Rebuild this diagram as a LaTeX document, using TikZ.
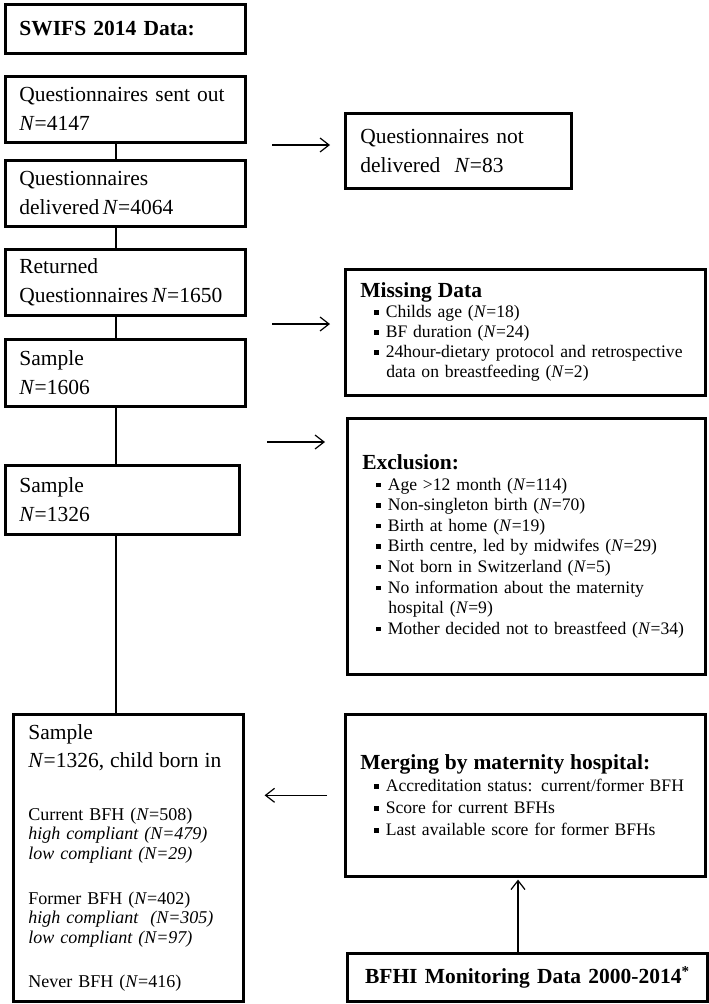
\documentclass[tikz,border=0pt]{standalone}
\usepackage{fontspec}
\setmainfont{Liberation Serif}
\usetikzlibrary{arrows.meta}

% square bullet and bold box heading
\newcommand{\sqitem}{\hspace*{21pt}\raisebox{3pt}{\rule{4.5pt}{4.5pt}}\hspace{7pt}}
\newcommand{\contline}{\hspace*{33pt}}
\newcommand{\headtxt}[1]{\hspace*{7pt}{\fontsize{21.5}{20}\selectfont\bfseries #1}}

\begin{document}
\begin{tikzpicture}[x=1pt,y=-1pt,
    stage/.style={draw, line width=2.6pt, anchor=north west, inner xsep=14pt,
      inner ysep=0pt, align=left, font=\fontsize{21.5}{29}\selectfont},
    info/.style={stage, inner xsep=8pt, font=\fontsize{17.6}{20.5}\selectfont},
    link/.style={line width=1.1pt},
    arr/.style={line width=1.2pt, -{Straight Barb[length=9pt,width=14pt]}}]
  \useasboundingbox (0,0) rectangle (709,1004);

  % SWIFS column
  \node[stage, minimum width=240pt, minimum height=49pt, text width=212pt] (swifs) at (4,3)
    {\textbf{SWIFS 2014 Data:}};
  \node[stage, minimum width=240pt, minimum height=66pt, text width=212pt] (sent) at (4,75)
    {Questionnaires sent out\\ \textit{N}=4147};
  \node[stage, minimum width=240pt, minimum height=66pt, text width=212pt] (deliv) at (4,159)
    {Questionnaires\\ delivered\,\textit{N}=4064};
  \node[stage, minimum width=240pt, minimum height=66pt, text width=212pt] (ret) at (4,248)
    {Returned\\ Questionnaires\,\textit{N}=1650};
  \node[stage, minimum width=240pt, minimum height=67pt, text width=212pt] (s1606) at (4,338)
    {Sample\\ \textit{N}=1606};
  \node[stage, minimum width=234pt, minimum height=69pt, text width=206pt] (s1326) at (4,464)
    {Sample\\ \textit{N}=1326};

  % final sample
  \node[stage, inner xsep=15pt, minimum width=230pt, minimum height=287pt, text width=200pt,
    font=\fontsize{18}{19.5}\selectfont] (final) at (12,713)
    {{\fontsize{21.5}{20}\selectfont Sample}\\[8.5pt]
     {\fontsize{21.5}{20}\selectfont \textit{N}=1326, child born in}\\[33pt]
     Current BFH (\textit{N}=508)\\
     \textit{high compliant (N=479)}\\
     \textit{low compliant (N=29)}\\[25.5pt]
     Former BFH (\textit{N}=402)\\
     \textit{high compliant\ \ (N=305)}\\
     \textit{low compliant (N=97)}\\[24.5pt]
     Never BFH (\textit{N}=416)};

  % right column
  \node[stage, minimum width=226pt, minimum height=75pt, text width=196pt, inner xsep=15pt] (notdel) at (344,112)
    {Questionnaires not\\ delivered\ \ \textit{N}=83};
  \node[info, minimum width=360pt, minimum height=126pt, text width=344pt,
    font=\fontsize{17.6}{20}\selectfont] (missing) at (344,268)
    {\headtxt{Missing Data}\\
     \sqitem Childs age (\textit{N}=18)\\
     \sqitem BF duration (\textit{N}=24)\\
     \sqitem 24hour-dietary protocol and retrospective\\
     \contline data on breastfeeding (\textit{N}=2)};
  \node[info, minimum width=358pt, minimum height=256pt, text width=342pt,
    font=\fontsize{17.6}{20.6}\selectfont] (excl) at (346,417)
    {\headtxt{Exclusion:}\\
     \sqitem Age >12 month (\textit{N}=114)\\
     \sqitem Non-singleton birth (\textit{N}=70)\\
     \sqitem Birth at home (\textit{N}=19)\\
     \sqitem Birth centre, led by midwifes (\textit{N}=29)\\
     \sqitem Not born in Switzerland (\textit{N}=5)\\
     \sqitem No information about the maternity\\
     \contline hospital (\textit{N}=9)\\
     \sqitem Mother decided not to breastfeed (\textit{N}=34)};
  \node[info, minimum width=360pt, minimum height=162pt, text width=344pt,
    font=\fontsize{17.6}{22}\selectfont] (merge) at (344,713)
    {\headtxt{Merging by maternity hospital:}\\
     \sqitem Accreditation status: current/former BFH\\
     \sqitem Score for current BFHs\\
     \sqitem Last available score for former BFHs};
  \node[stage, minimum width=360pt, minimum height=48pt, text width=330pt, align=center] (bfhi) at (346,952)
    {\textbf{BFHI Monitoring Data 2000-2014\textsuperscript{*}}};

  % vertical links
  \coordinate (spine) at (116,0);
  \draw[link] (sent.south -| spine) -- (deliv.north -| spine);
  \draw[link] (deliv.south -| spine) -- (ret.north -| spine);
  \draw[link] (ret.south -| spine) -- (s1606.north -| spine);
  \draw[link] (s1606.south -| spine) -- (s1326.north -| spine);
  \draw[link] (s1326.south -| spine) -- (final.north -| spine);

  % arrows
  \coordinate (from1) at (272,145);
  \coordinate (from2) at (272,324);
  \coordinate (from3) at (267,442);
  \draw[arr, shorten >=14pt] (from1) -- (from1 -| notdel.west);
  \draw[arr, shorten >=14pt] (from2) -- (from2 -| missing.west);
  \draw[arr, shorten >=21pt] (from3) -- (from3 -| excl.west);
  \draw[arr, shorten <=17pt, shorten >=20pt] (merge.west) -- (final.east |- merge.west);
  \coordinate (upx) at (518,0);
  \draw[arr, shorten >=2pt] (bfhi.north -| upx) -- (merge.south -| upx);
\end{tikzpicture}
\end{document}
